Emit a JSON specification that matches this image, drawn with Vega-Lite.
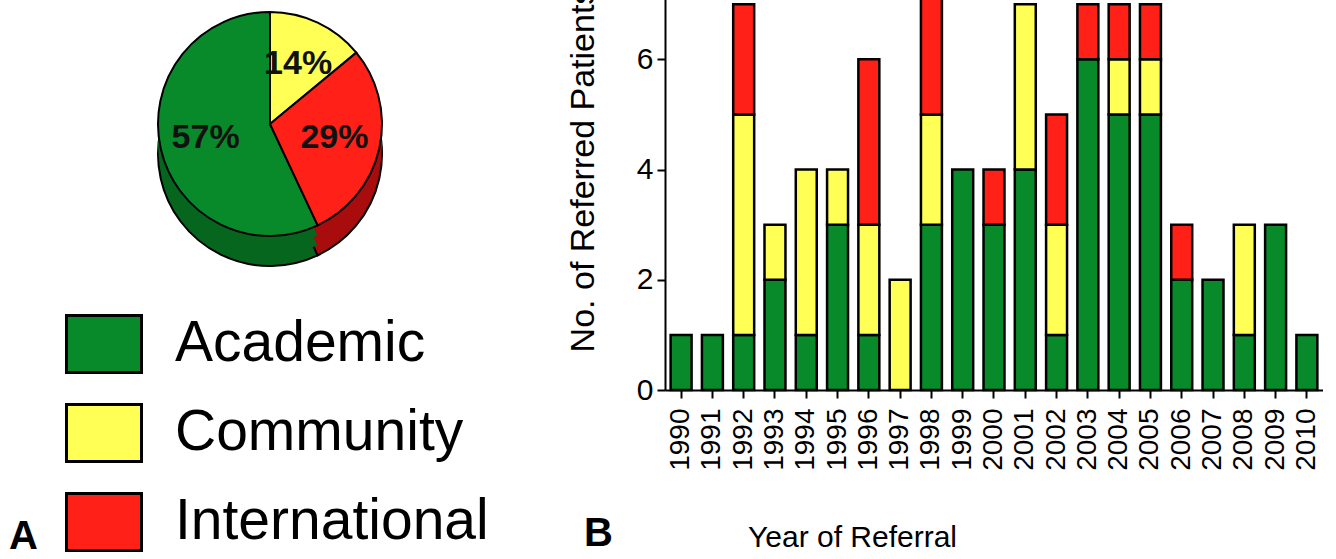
{
  "$schema": "https://vega.github.io/schema/vega-lite/v6.json",
  "padding": {"left": 0, "top": -53, "right": 0, "bottom": 0},
  "background": "white",
  "config": {
    "font": "Liberation Sans",
    "view": {"stroke": null},
    "axis": {"grid": false},
    "concat": {"spacing": 26}
  },
  "resolve": {"scale": {"color": "independent"}, "legend": {"color": "independent"}},
  "datasets": {
    "pie": [
      {"source": "Academic", "pct": 57, "label": "57%", "order": 3},
      {"source": "Community", "pct": 14, "label": "14%", "order": 1},
      {"source": "International", "pct": 29, "label": "29%", "order": 2}
    ],
    "bars": [
      {"year": "1990", "source": "Academic", "count": 1, "order": 1},
      {"year": "1991", "source": "Academic", "count": 1, "order": 1},
      {"year": "1992", "source": "Academic", "count": 1, "order": 1},
      {"year": "1992", "source": "Community", "count": 4, "order": 2},
      {"year": "1992", "source": "International", "count": 2, "order": 3},
      {"year": "1993", "source": "Academic", "count": 2, "order": 1},
      {"year": "1993", "source": "Community", "count": 1, "order": 2},
      {"year": "1994", "source": "Academic", "count": 1, "order": 1},
      {"year": "1994", "source": "Community", "count": 3, "order": 2},
      {"year": "1995", "source": "Academic", "count": 3, "order": 1},
      {"year": "1995", "source": "Community", "count": 1, "order": 2},
      {"year": "1996", "source": "Academic", "count": 1, "order": 1},
      {"year": "1996", "source": "Community", "count": 2, "order": 2},
      {"year": "1996", "source": "International", "count": 3, "order": 3},
      {"year": "1997", "source": "Community", "count": 2, "order": 2},
      {"year": "1998", "source": "Academic", "count": 3, "order": 1},
      {"year": "1998", "source": "Community", "count": 2, "order": 2},
      {"year": "1998", "source": "International", "count": 3, "order": 3},
      {"year": "1999", "source": "Academic", "count": 4, "order": 1},
      {"year": "2000", "source": "Academic", "count": 3, "order": 1},
      {"year": "2000", "source": "International", "count": 1, "order": 3},
      {"year": "2001", "source": "Academic", "count": 4, "order": 1},
      {"year": "2001", "source": "Community", "count": 3, "order": 2},
      {"year": "2002", "source": "Academic", "count": 1, "order": 1},
      {"year": "2002", "source": "Community", "count": 2, "order": 2},
      {"year": "2002", "source": "International", "count": 2, "order": 3},
      {"year": "2003", "source": "Academic", "count": 6, "order": 1},
      {"year": "2003", "source": "International", "count": 1, "order": 3},
      {"year": "2004", "source": "Academic", "count": 5, "order": 1},
      {"year": "2004", "source": "Community", "count": 1, "order": 2},
      {"year": "2004", "source": "International", "count": 1, "order": 3},
      {"year": "2005", "source": "Academic", "count": 5, "order": 1},
      {"year": "2005", "source": "Community", "count": 1, "order": 2},
      {"year": "2005", "source": "International", "count": 1, "order": 3},
      {"year": "2006", "source": "Academic", "count": 2, "order": 1},
      {"year": "2006", "source": "International", "count": 1, "order": 3},
      {"year": "2007", "source": "Academic", "count": 2, "order": 1},
      {"year": "2008", "source": "Academic", "count": 1, "order": 1},
      {"year": "2008", "source": "Community", "count": 2, "order": 2},
      {"year": "2009", "source": "Academic", "count": 3, "order": 1},
      {"year": "2010", "source": "Academic", "count": 1, "order": 1}
    ]
  },
  "hconcat": [
    {
      "width": 540,
      "height": 350,
      "data": {"name": "pie"},
      "title": {"text": "A", "orient": "bottom", "anchor": "start", "frame": "group", "offset": -40, "dx": 9, "fontSize": 40, "fontWeight": "bold", "color": "black", "baseline": "top"},
      "encoding": {
        "theta": {"field": "pct", "type": "quantitative", "stack": true},
        "order": {"field": "order", "type": "quantitative"}
      },
      "layer": [
        {
          "mark": {"type": "arc", "outerRadius": 112, "yOffset": 30, "stroke": "black", "strokeWidth": 2},
          "encoding": {"fill": {"field": "source", "type": "nominal", "scale": {"domain": ["Academic", "Community", "International"], "range": ["#07661d", "#b0b020", "#a80c0c"]}, "legend": null}}
        },
        {
          "mark": {"type": "arc", "outerRadius": 112, "yOffset": 20},
          "encoding": {"fill": {"field": "source", "type": "nominal", "legend": null}}
        },
        {
          "mark": {"type": "arc", "outerRadius": 112, "yOffset": 10},
          "encoding": {"fill": {"field": "source", "type": "nominal", "legend": null}}
        },
        {
          "mark": {"type": "arc", "outerRadius": 112, "stroke": "black", "strokeWidth": 2},
          "encoding": {
            "color": {
              "field": "source", "type": "nominal",
              "scale": {"domain": ["Academic", "Community", "International"], "range": ["#088a2a", "#ffff55", "#ff2018"]},
              "legend": {
                "orient": "none", "legendX": 65, "legendY": 356, "title": null,
                "symbolType": "M-1,-0.76H1V0.76H-1Z", "symbolSize": 5625,
                "symbolStrokeColor": "black", "symbolStrokeWidth": 3, "symbolOpacity": 1,
                "labelFontSize": 57, "labelOffset": 32, "labelColor": "black", "labelLimit": 600,
                "rowPadding": 15, "padding": 0
              }
            }
          }
        },
        {
          "mark": {"type": "text", "radius": 66, "fontSize": 34, "fontWeight": "bold", "color": "#111111"},
          "encoding": {"text": {"field": "label", "type": "nominal"}}
        }
      ]
    },
    {
      "width": 658,
      "height": 441,
      "data": {"name": "bars"},
      "title": {"text": "B", "orient": "bottom", "anchor": "start", "frame": "group", "offset": -38, "dx": -81, "fontSize": 40, "fontWeight": "bold", "color": "black", "baseline": "top"},
      "mark": {"type": "bar", "stroke": "black", "strokeWidth": 2.5},
      "encoding": {
        "x": {
          "field": "year", "type": "ordinal",
          "scale": {"paddingInner": 0.33, "paddingOuter": 0.18},
          "axis": {
            "title": "Year of Referral", "labelAngle": -90, "labelFontSize": 28, "labelColor": "black",
            "tickSize": 8, "tickWidth": 2, "tickColor": "black", "domainColor": "black", "domainWidth": 2,
            "labelPadding": 10, "titleFontSize": 30, "titleFontWeight": "normal", "titleColor": "black",
            "titleX": 187, "titleY": 132, "titleBaseline": "top", "titleAlign": "center"
          }
        },
        "y": {
          "field": "count", "type": "quantitative", "stack": "zero",
          "scale": {"domain": [0, 8], "nice": false},
          "axis": {
            "title": "No. of Referred Patients", "values": [0, 2, 4, 6],
            "labelFontSize": 30, "labelColor": "black", "tickSize": 8, "tickWidth": 2, "tickColor": "black",
            "domainColor": "black", "domainWidth": 2, "labelPadding": 4,
            "titleFontSize": 34, "titleFontWeight": "normal", "titleColor": "black", "titlePadding": 36
          }
        },
        "color": {
          "field": "source", "type": "nominal",
          "scale": {"domain": ["Academic", "Community", "International"], "range": ["#088a2a", "#ffff55", "#ff2018"]},
          "legend": null
        },
        "order": {"field": "order", "type": "quantitative"}
      }
    }
  ]
}
